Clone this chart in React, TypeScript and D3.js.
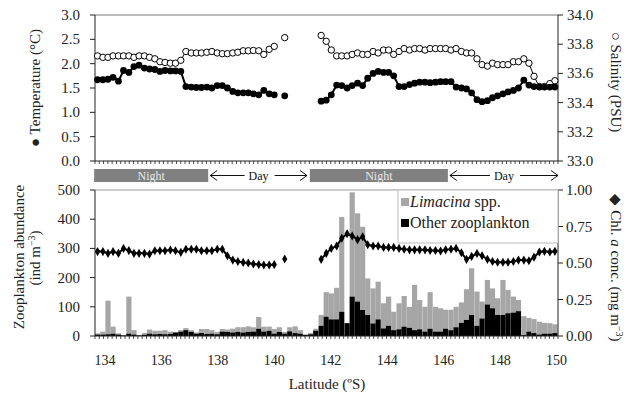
import * as d3 from 'd3'

// sample latitudes (ºS), one per 10-min bin
const latitudes = [
  133.74, 133.93, 134.11, 134.29, 134.48, 134.66, 134.85, 135.03, 135.21, 135.4,
  135.58, 135.77, 135.95, 136.13, 136.32, 136.5, 136.69, 136.87, 137.06, 137.24,
  137.42, 137.61, 137.79, 137.98, 138.16, 138.34, 138.53, 138.71, 138.9, 139.08,
  139.26, 139.45, 139.63, 139.82, 140.0, 140.18, 140.37, 140.55, 140.74, 140.92,
  141.1, 141.29, 141.47, 141.66, 141.84, 142.02, 142.21, 142.39, 142.58, 142.76,
  142.95, 143.13, 143.31, 143.5, 143.68, 143.87, 144.05, 144.23, 144.42, 144.6,
  144.79, 144.97, 145.15, 145.34, 145.52, 145.71, 145.89, 146.07, 146.26, 146.44,
  146.63, 146.81, 146.99, 147.18, 147.36, 147.55, 147.73, 147.91, 148.1, 148.28,
  148.47, 148.65, 148.84, 149.02, 149.2, 149.39, 149.57, 149.76, 149.94,
]

const limacina = [
  4, 10, 115, 24, 4, 1, 127, 15, 1, 6,
  14, 12, 11, 14, 8, 2, 5, 7, 6, 4,
  14, 17, 12, 8, 9, 8, 13, 16, 18, 19,
  15, 40, 17, 14, 16, 16, 6, 14, 23, 12,
  1, 4, 7, 37, 84, 89, 108, 325, 0, 357,
  302, 285, 125, 120, 129, 86, 100, 63, 89, 105,
  72, 155, 100, 85, 125, 85, 80, 65, 70, 70,
  70, 105, 160, 117, 58, 84, 68, 57, 120, 80,
  55, 38, 65, 47, 48, 44, 37, 36, 30,
]

const otherZoo = [
  5, 5, 6, 8, 5, 2, 8, 5, 2, 4,
  8, 6, 7, 6, 7, 12, 15, 20, 14, 8,
  10, 7, 8, 6, 15, 14, 12, 14, 12, 14,
  15, 25, 15, 18, 8, 14, 8, 16, 10, 8,
  4, 6, 18, 35, 66, 57, 57, 83, 44, 135,
  118, 89, 72, 43, 57, 26, 35, 20, 23, 32,
  28, 20, 23, 15, 25, 15, 15, 25, 20, 30,
  45, 55, 72, 35, 60, 108, 95, 72, 72, 78,
  80, 85, 3, 15, 10, 5, 8, 8, 10,
]

const temperature = [
  1.67, 1.67, 1.68, 1.72, 1.64, 1.86, 1.82, 1.94, 1.97, 1.91,
  1.89, 1.88, 1.84, 1.86, 1.85, 1.85, 1.84, 1.53, 1.52, 1.51,
  1.51, 1.52, 1.5, 1.55, 1.55, 1.5, 1.43, 1.4, 1.4, 1.4,
  1.38, 1.36, 1.45, 1.38, 1.36, null, 1.34, null, null, null,
  null, null, null, 1.23, 1.25, 1.36, 1.56, 1.55, 1.5, 1.55,
  1.6, 1.55, 1.7, 1.8, 1.84, 1.82, 1.82, 1.75, 1.53, 1.53,
  1.57, 1.6, 1.62, 1.62, 1.61, 1.62, 1.63, 1.63, 1.63, 1.52,
  1.5, 1.48, 1.4, 1.26, 1.22, 1.24, 1.3, 1.34, 1.38, 1.42,
  1.45, 1.5, 1.66, 1.56, 1.53, 1.52, 1.52, 1.52, 1.52,
]

const salinity = [
  33.72, 33.71, 33.71, 33.72, 33.72, 33.72, 33.72, 33.71, 33.72, 33.72,
  33.71, 33.7, 33.68, 33.675, 33.67, 33.67, 33.69, 33.75, 33.74, 33.74,
  33.74, 33.745, 33.75, 33.74, 33.735, 33.735, 33.74, 33.745, 33.755, 33.755,
  33.757, 33.755, 33.73, 33.765, 33.785, null, 33.845, null, null, null,
  null, null, null, 33.86, 33.82, 33.76, 33.72, 33.72, 33.72, 33.73,
  33.74, 33.73, 33.73, 33.75, 33.74, 33.76, 33.76, 33.73, 33.75, 33.77,
  33.76, 33.77, 33.77, 33.76, 33.77, 33.77, 33.77, 33.77, 33.76, 33.77,
  33.75, 33.74, 33.74, 33.7, 33.66, 33.65, 33.67, 33.66, 33.66, 33.66,
  33.68, 33.68, 33.7, 33.67, 33.58, 33.51, 33.51, 33.53, 33.55,
]

const chlA = [
  0.578, 0.578, 0.566, 0.578, 0.566, 0.6, 0.585, 0.566, 0.566, 0.566,
  0.561, 0.584, 0.584, 0.584, 0.589, 0.584, 0.573, 0.594, 0.594, 0.594,
  0.584, 0.584, 0.584, 0.594, 0.594, 0.55, 0.52, 0.51, 0.504, 0.5,
  0.493, 0.489, 0.486, 0.486, 0.489, null, 0.527, null, null, null,
  null, null, null, 0.525, 0.566, 0.6, 0.616, 0.67, 0.7, 0.685,
  0.66, 0.68, 0.625, 0.616, 0.616, 0.607, 0.607, 0.607, 0.6, 0.595,
  0.59, 0.59, 0.59, 0.59, 0.586, 0.586, 0.582, 0.59, 0.595, 0.6,
  0.57, 0.525, 0.545, 0.565, 0.55, 0.525, 0.51, 0.505, 0.505, 0.505,
  0.51, 0.52, 0.52, 0.515, 0.54, 0.575, 0.58, 0.575, 0.58,
]

const tempTicks = [0, 0.5, 1, 1.5, 2, 2.5, 3]
const salTicks = [33.0, 33.2, 33.4, 33.6, 33.8, 34.0]
const abundTicks = [0, 100, 200, 300, 400, 500]
const chlTicks = [0, 0.25, 0.5, 0.75, 1]
const latTicks = [134, 136, 138, 140, 142, 144, 146, 148, 150]

const periods = [
  { label: 'Night', from: 133.62, to: 137.66 },
  { label: 'Day', from: 137.73, to: 141.16 },
  { label: 'Night', from: 141.26, to: 146.15 },
  { label: 'Day', from: 146.22, to: 150.05 },
]

const FONT = "'Liberation Serif', 'Times New Roman', serif"
const BIN = 0.1841

export default function App() {
  const width = 624
  const height = 395
  const left = 95
  const right = 558

  const x = d3.scaleLinear().domain([133.65, 150.05]).range([left, right])
  const yTemp = d3.scaleLinear().domain([0, 3]).range([161, 15])
  const ySal = d3.scaleLinear().domain([33, 34]).range([161, 15])
  const yAb = d3.scaleLinear().domain([0, 500]).range([336, 190])
  const yChl = d3.scaleLinear().domain([0, 1]).range([336, 190])

  const rows = latitudes.map((lat, i) => ({
    lat,
    lim: limacina[i],
    oth: otherZoo[i],
    t: temperature[i],
    s: salinity[i],
    c: chlA[i],
  }))

  const tempLine = d3
    .line<(typeof rows)[number]>()
    .defined((d) => d.t != null)
    .x((d) => x(d.lat))
    .y((d) => yTemp(d.t as number))
  const salLine = d3
    .line<(typeof rows)[number]>()
    .defined((d) => d.s != null)
    .x((d) => x(d.lat))
    .y((d) => ySal(d.s as number))
  const chlLine = d3
    .line<(typeof rows)[number]>()
    .defined((d) => d.c != null)
    .x((d) => x(d.lat))
    .y((d) => yChl(d.c as number))

  const minorTicks = d3.range(0, 109).map((k) => left + (k * (right - left)) / 108)
  const diamond = d3.symbol(d3.symbolDiamond, 24)()

  const axisColor = '#222'
  const bandTop = 169
  const bandH = 13

  return (
    <svg
      width={width}
      height={height}
      style={{ position: 'absolute', left: 0, top: 0, background: '#fff' }}
      fontFamily={FONT}
    >
      {/* ---------- top panel ---------- */}
      <line x1={left} x2={right} y1={15} y2={15} stroke="#777" />
      <line x1={left} x2={left} y1={15} y2={161} stroke={axisColor} />
      <line x1={right} x2={right} y1={15} y2={161} stroke={axisColor} />
      <line x1={left} x2={right} y1={161} y2={161} stroke={axisColor} />
      {minorTicks.map((t, i) => (
        <line key={`tt${i}`} x1={t} x2={t} y1={161} y2={164} stroke={axisColor} strokeWidth={0.8} />
      ))}
      {tempTicks.map((t) => (
        <g key={`yt${t}`}>
          <line x1={left - 5} x2={left} y1={yTemp(t)} y2={yTemp(t)} stroke={axisColor} />
          <text x={80} y={yTemp(t) + 5} textAnchor="end" fontSize={15} fill="#222">
            {t.toFixed(1)}
          </text>
        </g>
      ))}
      {salTicks.map((t) => (
        <g key={`ys${t}`}>
          <line x1={right} x2={right + 5} y1={ySal(t)} y2={ySal(t)} stroke={axisColor} />
          <text x={567} y={ySal(t) + 5} fontSize={15} fill="#222">
            {t.toFixed(1)}
          </text>
        </g>
      ))}

      <path d={salLine(rows) ?? ''} fill="none" stroke="#000" strokeWidth={1} />
      <path d={tempLine(rows) ?? ''} fill="none" stroke="#000" strokeWidth={2} />
      {rows
        .filter((d) => d.s != null)
        .map((d, i) => (
          <circle key={`s${i}`} cx={x(d.lat)} cy={ySal(d.s as number)} r={3.2} fill="#fff" stroke="#000" strokeWidth={1} />
        ))}
      {rows
        .filter((d) => d.t != null)
        .map((d, i) => (
          <circle key={`t${i}`} cx={x(d.lat)} cy={yTemp(d.t as number)} r={3.4} fill="#000" />
        ))}

      <text transform="translate(40,88) rotate(-90)" textAnchor="middle" fontSize={15} fill="#222">
        ● Temperature (°C)
      </text>
      <text transform="translate(611,82) rotate(90)" textAnchor="middle" fontSize={15} fill="#222">
        ○ Salinity (PSU)
      </text>

      {/* ---------- night / day band ---------- */}
      {periods.map((p, i) => {
        const x0 = x(p.from)
        const x1 = x(p.to)
        const cy = bandTop + bandH / 2
        if (p.label === 'Night') {
          return (
            <g key={`p${i}`}>
              <rect x={x0} y={bandTop} width={x1 - x0} height={bandH} fill="#808080" />
              <text x={(x0 + x1) / 2} y={cy + 4} textAnchor="middle" fontSize={12} fill="#e8e8e8">
                Night
              </text>
            </g>
          )
        }
        const mid = (x0 + x1) / 2
        return (
          <g key={`p${i}`} stroke="#111" strokeWidth={1} fill="none">
            <line x1={x0} x2={mid - 14} y1={cy} y2={cy} />
            <path d={`M${x0 + 7},${cy - 5} L${x0},${cy} L${x0 + 7},${cy + 5}`} />
            <line x1={mid + 16} x2={x1} y1={cy} y2={cy} />
            <path d={`M${x1 - 7},${cy - 5} L${x1},${cy} L${x1 - 7},${cy + 5}`} />
            <text x={mid} y={cy + 4} textAnchor="middle" fontSize={12} fill="#111" stroke="none">
              Day
            </text>
          </g>
        )
      })}

      {/* ---------- bottom panel ---------- */}
      {rows.map((d, i) => {
        const x0 = x(d.lat - BIN / 2)
        const w = x(d.lat + BIN / 2) - x0
        return (
          <g key={`b${i}`}>
            <rect x={x0} y={yAb(d.oth + d.lim)} width={w} height={yAb(d.oth) - yAb(d.oth + d.lim)} fill="#a6a6a6" />
            <rect x={x0} y={yAb(d.oth)} width={w} height={yAb(0) - yAb(d.oth)} fill="#000" />
          </g>
        )
      })}

      <line x1={left} x2={right} y1={190} y2={190} stroke="#999" />
      <line x1={left} x2={left} y1={190} y2={336} stroke={axisColor} />
      <line x1={right} x2={right} y1={190} y2={336} stroke={axisColor} />
      <line x1={left} x2={right} y1={336} y2={336} stroke={axisColor} />
      {minorTicks.map((t, i) => (
        <line key={`bt${i}`} x1={t} x2={t} y1={336} y2={339} stroke={axisColor} strokeWidth={0.8} />
      ))}
      {abundTicks.map((t) => (
        <g key={`ya${t}`}>
          <line x1={left - 5} x2={left} y1={yAb(t)} y2={yAb(t)} stroke={axisColor} />
          <text x={80} y={yAb(t) + 5} textAnchor="end" fontSize={15} fill="#222">
            {t}
          </text>
        </g>
      ))}
      {chlTicks.map((t) => (
        <g key={`yc${t}`}>
          <line x1={right} x2={right + 5} y1={yChl(t)} y2={yChl(t)} stroke={axisColor} />
          <text x={566} y={yChl(t) + 5} fontSize={15} fill="#222">
            {t.toFixed(2)}
          </text>
        </g>
      ))}

      <path d={chlLine(rows) ?? ''} fill="none" stroke="#000" strokeWidth={2} />
      {rows
        .filter((d) => d.c != null)
        .map((d, i) => (
          <path key={`c${i}`} d={diamond ?? ''} transform={`translate(${x(d.lat)},${yChl(d.c as number)})`} fill="#000" />
        ))}

      {/* legend */}
      <rect x={398} y={190} width={right - 398} height={53} fill="#fff" stroke="#bbb" />
      <rect x={401} y={198} width={8} height={8} fill="#a6a6a6" />
      <text x={410} y={207} fontSize={16} fill="#222">
        <tspan fontStyle="italic">Limacina</tspan> spp.
      </text>
      <rect x={401} y={219} width={8} height={8} fill="#000" />
      <text x={410} y={228} fontSize={16} fill="#222">
        Other zooplankton
      </text>

      {latTicks.map((t) => (
        <text key={`lx${t}`} x={x(t)} y={365} textAnchor="middle" fontSize={14} fill="#222">
          {t}
        </text>
      ))}
      <text x={327} y={389} textAnchor="middle" fontSize={15} fill="#222">
        Latitude (ºS)
      </text>

      <text transform="translate(24,257) rotate(-90)" textAnchor="middle" fontSize={15} fill="#222">
        Zooplankton abundance
      </text>
      <text transform="translate(40,258) rotate(-90)" textAnchor="middle" fontSize={15} fill="#222">
        (ind m<tspan dy={-5} fontSize={10}>−3</tspan>
        <tspan dy={5}>)</tspan>
      </text>
      <text transform="translate(611,268) rotate(90)" textAnchor="middle" fontSize={15} fill="#222">
        ◆ Chl. <tspan fontStyle="italic">a</tspan> conc. (mg m<tspan dy={-5} fontSize={10}>−3</tspan>
        <tspan dy={5}>)</tspan>
      </text>
    </svg>
  )
}
